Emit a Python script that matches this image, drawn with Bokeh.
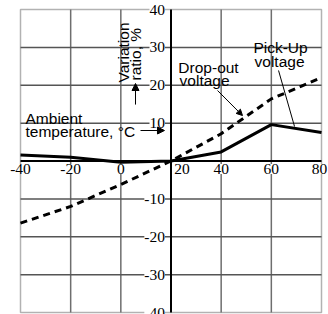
import math
from bokeh.plotting import figure
from bokeh.models import (ColumnDataSource, LabelSet, Label, Arrow,
                          NormalHead, BoxAnnotation)
from bokeh.embed import file_html
from bokeh.resources import INLINE

# ---- data ----
temps = [-40, -20, 0, 20, 40, 60, 80]
pickup = [1.6, 1.0, -0.3, 0.0, 2.4, 9.6, 7.5]
dropout = [-16.4, -12.0, -6.2, 0.0, 7.2, 16.4, 22.0]

x_ticks = [-40, -20, 0, 20, 40, 60, 80]
x_tick_labels = ["-40", "-20", "0", "20", "40", "60", "80"]
y_grid = [-30, -20, -10, 10, 20, 30]
y_ticks = [40, 30, 20, 10, -10, -20, -30, -40]
y_tick_labels = ["40", "30", "20", "10", "-10", "-20", "-30", "-40"]

X0, X1, Y0, Y1 = -40, 80, -40, 40      # chart box
AX_X, AX_Y = 20, 0                      # where the axes cross

FONT = "Liberation Sans"
FS = "15.5px"

# canvas layout (pixels) - the frame covers the whole canvas so that the
# tick labels outside the chart box are not clipped
W, H = 328, 314
PAD_L, PAD_R, PAD_T, PAD_B = 20, 7, 9, 2
sx = (W - PAD_L - PAD_R) / (X1 - X0)
sy = (H - PAD_T - PAD_B) / (Y1 - Y0)

p = figure(width=W, height=H,
           x_range=(X0 - PAD_L / sx, X1 + PAD_R / sx),
           y_range=(Y0 - PAD_B / sy, Y1 + PAD_T / sy),
           output_backend="svg", toolbar_location=None,
           x_axis_location=None, y_axis_location=None,
           min_border=0)
p.xgrid.visible = False
p.ygrid.visible = False
p.outline_line_color = None
p.background_fill_color = "white"
p.border_fill_color = "white"

# grid lines
vx = [t for t in x_ticks if t not in (X0, X1, AX_X)]
p.segment(x0=vx, y0=[Y0] * len(vx), x1=vx, y1=[Y1] * len(vx),
          line_color="#6e6e6e", line_width=1.5)
p.segment(x0=[X0] * len(y_grid), y0=y_grid, x1=[X1] * len(y_grid), y1=y_grid,
          line_color="#555555", line_width=1.5)
# axes
p.segment(x0=[AX_X, X0], y0=[Y0, AX_Y], x1=[AX_X, X1], y1=[Y1, AX_Y],
          line_color="black", line_width=2)
# chart box
p.add_layout(BoxAnnotation(left=X0, right=X1, bottom=Y0, top=Y1,
                           fill_alpha=0, line_color="black", line_width=1.5,
                           level="underlay"))

# curves
p.line(temps, dropout, line_color="black", line_width=3, line_dash="7 5")
p.line(temps, pickup, line_color="black", line_width=3)

# tick labels
xo = [11 if t == AX_X else (-2 if t == x_ticks[-1] else 0) for t in x_ticks]
xsrc = ColumnDataSource(dict(x=x_ticks, y=[AX_Y] * len(x_ticks),
                             text=x_tick_labels, xo=xo))
p.add_layout(LabelSet(x="x", y="y", text="text", source=xsrc,
                      x_offset="xo", y_offset=-3,
                      text_align="center", text_baseline="top",
                      text_font=FONT, text_font_size=FS, text_color="black",
                      background_fill_color="white"))
ysrc = ColumnDataSource(dict(x=[AX_X] * len(y_ticks), y=y_ticks,
                             text=y_tick_labels))
p.add_layout(LabelSet(x="x", y="y", text="text", source=ysrc,
                      x_offset=-6, text_align="right", text_baseline="middle",
                      text_font=FONT, text_font_size=FS, text_color="black",
                      background_fill_color="white"))

# annotation texts: (x, y, text, align, angle)
notes = [
    (-38.0, 11.09, "Ambient", "left", 0.0),
    (-38.0, 7.66, "temperature, °C", "left", 0.0),
    (0.87, 20.73, "Variation", "left", math.pi / 2),
    (5.65, 21.25, "ratio, %", "left", math.pi / 2),
    (34.96, 24.69, "Drop-out", "center", 0.0),
    (33.4, 21.25, "voltage", "center", 0.0),
    (63.67, 29.97, "Pick-Up", "center", 0.0),
    (63.27, 26.4, "voltage", "center", 0.0),
]
# white boxes first, then the texts on top
for x, y, t, a, ang in notes:
    p.add_layout(Label(x=x, y=y, text=t, text_align=a, angle=ang,
                       text_baseline="middle", text_alpha=0.0,
                       text_font=FONT, text_font_size=FS,
                       background_fill_color="white"))
for x, y, t, a, ang in notes:
    p.add_layout(Label(x=x, y=y, text=t, text_align=a, angle=ang,
                       text_baseline="middle",
                       text_font=FONT, text_font_size=FS, text_color="black"))

head = dict(fill_color="black", line_color="black")
p.add_layout(Arrow(end=NormalHead(size=7, **head),
                   x_start=7.85, y_start=8.05, x_end=17.4, y_end=8.05,
                   line_color="black", line_width=1))
p.add_layout(Arrow(end=NormalHead(size=7, **head),
                   x_start=5.85, y_start=14.9, x_end=5.85, y_end=20.46,
                   line_color="black", line_width=1))
p.add_layout(Arrow(end=NormalHead(size=6, **head),
                   x_start=38.55, y_start=18.61, x_end=48.5, y_end=12.0,
                   line_color="black", line_width=1))
p.add_layout(Arrow(end=None, x_start=62.87, y_start=23.9, x_end=69.25, y_end=9.1,
                   line_color="black", line_width=1))

open("out.html", "w").write(file_html(p, INLINE))
